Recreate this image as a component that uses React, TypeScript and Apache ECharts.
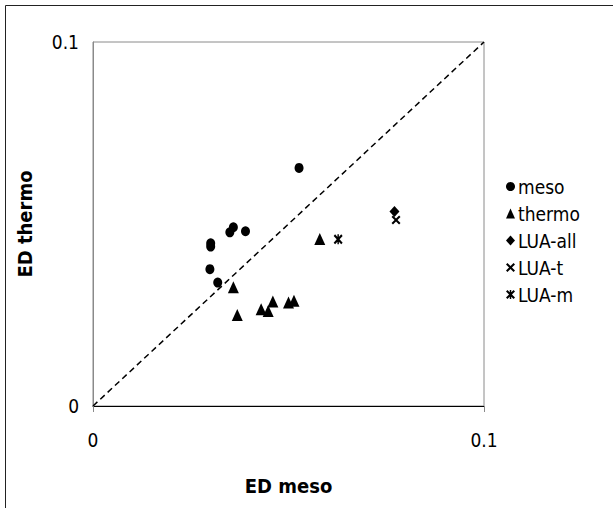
import React, { useEffect, useRef } from "react";
import * as echarts from "echarts";

const mesoX = [0.0527, 0.0359, 0.035, 0.039, 0.0301, 0.0301, 0.0299, 0.0319];
const mesoY = [0.0654, 0.0491, 0.0477, 0.048, 0.0447, 0.0438, 0.0376, 0.0339];
const thermoX = [0.0359, 0.0369, 0.043, 0.0448, 0.046, 0.05, 0.0514, 0.058];
const thermoY = [0.0326, 0.025, 0.0266, 0.0261, 0.0287, 0.0284, 0.0289, 0.0459];
const luaAllX = [0.0771];
const luaAllY = [0.0534];
const luaTX = [0.0775];
const luaTY = [0.0511];
const luaMX = [0.0627];
const luaMY = [0.0458];
const diagX = [0, 0.1];
const diagY = [0, 0.1];
const seriesNames = ["meso", "thermo", "LUA-all", "LUA-t", "LUA-m"];

const FONT = "'DejaVu Sans Condensed', 'DejaVu Sans', sans-serif";

const crossPath =
  "path://M0,1.6L1.6,0L5,3.4L8.4,0L10,1.6L6.6,5L10,8.4L8.4,10L5,6.6L1.6,10L0,8.4L3.4,5Z";
const asteriskPath =
  "path://M0,1.6L1.6,0L5,3.4L8.4,0L10,1.6L6.6,5L10,8.4L8.4,10L5,6.6L1.6,10L0,8.4L3.4,5Z M4.2,0L5.8,0L5.8,10L4.2,10Z";

const zip = (xs: number[], ys: number[]) => xs.map((x, i) => [x, ys[i]]);

export default function App() {
  const ref = useRef<HTMLDivElement>(null);
  useEffect(() => {
    document.body.style.margin = "0";
    if (!ref.current) return;
    const chart = echarts.init(ref.current, null, { renderer: "svg" });
    const scatterBase = {
      type: "scatter" as const,
      itemStyle: { color: "#000", opacity: 1 },
      z: 3,
    };
    chart.setOption({
      animation: false,
      backgroundColor: "#fff",
      textStyle: { fontFamily: FONT },
      grid: {
        left: 93,
        top: 42,
        width: 391,
        height: 364,
        show: true,
        borderColor: "#8a8a8a",
        borderWidth: 1,
      },
      xAxis: {
        type: "value",
        min: 0,
        max: 0.1,
        interval: 0.1,
        name: "ED meso",
        nameLocation: "middle",
        nameGap: 70,
        nameTextStyle: { fontFamily: FONT, fontWeight: "bold", fontSize: 20, color: "#000" },
        axisLine: { show: true, lineStyle: { color: "#000", width: 1 } },
        axisTick: { show: true, length: 6, lineStyle: { color: "#8a8a8a" } },
        axisLabel: { fontFamily: FONT, fontSize: 19, color: "#000", margin: 24 },
        splitLine: { show: false },
      },
      yAxis: {
        type: "value",
        min: 0,
        max: 0.1,
        interval: 0.1,
        name: "ED thermo",
        nameLocation: "middle",
        nameGap: 58,
        nameTextStyle: { fontFamily: FONT, fontWeight: "bold", fontSize: 20, color: "#000" },
        axisLine: { show: true, lineStyle: { color: "#8a8a8a", width: 1 } },
        axisTick: { show: false },
        axisLabel: { fontFamily: FONT, fontSize: 19, color: "#000", margin: 14 },
        splitLine: { show: false },
      },
      legend: {
        orient: "vertical",
        left: 501,
        top: 172,
        data: seriesNames,
        itemWidth: 9,
        itemHeight: 10,
        itemGap: 8,
        textStyle: { fontFamily: FONT, fontSize: 19, color: "#000", padding: [0, 0, 0, -2] },
      },
      graphic: [
        { type: "line", shape: { x1: 5.5, y1: 5.5, x2: 613, y2: 5.5 }, style: { stroke: "#222", lineWidth: 1 } },
        { type: "line", shape: { x1: 5.5, y1: 5.5, x2: 5.5, y2: 508 }, style: { stroke: "#222", lineWidth: 1 } },
      ],
      series: [
        {
          type: "line",
          data: zip(diagX, diagY),
          symbol: "none",
          silent: true,
          lineStyle: { color: "#000", width: 1.5, type: [6, 4] },
          z: 2,
        },
        { ...scatterBase, name: "meso", symbol: "circle", symbolSize: [9, 10], data: zip(mesoX, mesoY) },
        { ...scatterBase, name: "thermo", symbol: "triangle", symbolSize: [11, 12], data: zip(thermoX, thermoY) },
        { ...scatterBase, name: "LUA-all", symbol: "diamond", symbolSize: [10, 11], data: zip(luaAllX, luaAllY) },
        { ...scatterBase, name: "LUA-t", symbol: crossPath, symbolSize: [9, 9], data: zip(luaTX, luaTY) },
        { ...scatterBase, name: "LUA-m", symbol: asteriskPath, symbolSize: [9, 10], data: zip(luaMX, luaMY) },
      ],
    });
    return () => chart.dispose();
  }, []);
  return <div ref={ref} style={{ width: 613, height: 508 }} />;
}
